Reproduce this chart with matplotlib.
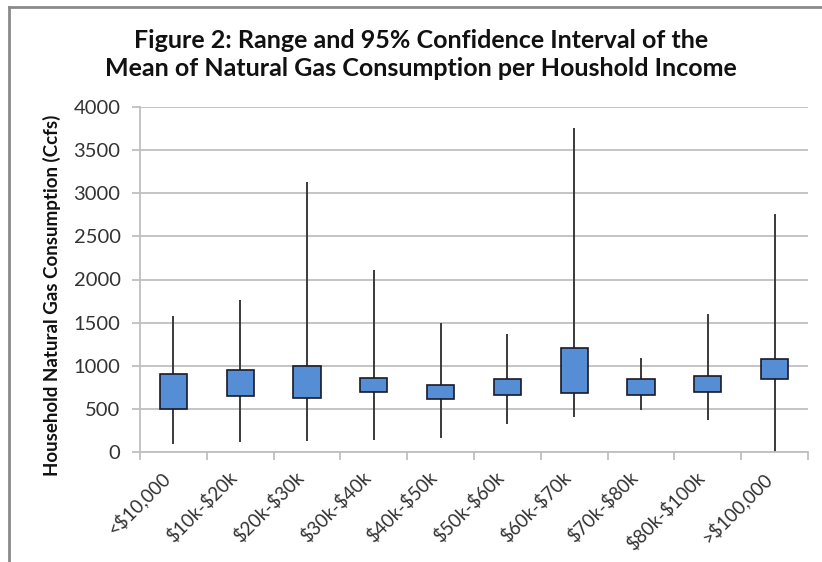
import matplotlib
matplotlib.use("Agg")
import matplotlib.pyplot as plt
import numpy as np
from matplotlib.lines import Line2D

categories = ["<$10,000", "$10k-$20k", "$20k-$30k", "$30k-$40k", "$40k-$50k",
              "$50k-$60k", "$60k-$70k", "$70k-$80k", "$80k-$100k", ">$100,000"]
range_min = [93, 112, 124, 135, 158, 324, 405, 483, 371, 0]
range_max = [1579, 1768, 3127, 2108, 1490, 1371, 3753, 1089, 1598, 2757]
ci_low = [502, 645, 625, 691, 614, 656, 680, 656, 691, 849]
ci_high = [907, 954, 996, 861, 772, 849, 1201, 849, 884, 1077]
yticks = [0, 500, 1000, 1500, 2000, 2500, 3000, 3500, 4000]

plt.rcParams['font.family'] = ['Lato', 'DejaVu Sans']

fig = plt.figure(figsize=(8.22, 5.62), dpi=100)
ax = fig.add_axes([140/822, 1-452/562, (808-140)/822, (452-107)/562])

x = np.arange(len(categories))
ax.vlines(x, range_min, range_max, color="#3a3a3a", lw=1.4, zorder=2)
heights = np.array(ci_high) - np.array(ci_low)
ax.bar(x, heights, bottom=ci_low, width=0.41, color="#558ED5",
       edgecolor="#1a1a2a", linewidth=1.2, zorder=3)

ax.set_xlim(-0.5, len(categories) - 0.5)
ax.set_ylim(0, 4000)
ax.set_yticks(yticks)
ax.set_yticklabels([str(v) for v in yticks], fontsize=14.5, color="#333333")
ax.grid(axis='y', color="#bfbfbf", lw=1.3, zorder=0)
ax.set_axisbelow(True)

for s in ["top", "right"]:
    ax.spines[s].set_visible(False)
for s in ["left", "bottom"]:
    ax.spines[s].set_color("#bfbfbf")
    ax.spines[s].set_linewidth(1.3)
ax.tick_params(axis='y', length=6, width=1.3, color="#bfbfbf", pad=8)

# x tick marks at category boundaries
ax.set_xticks(np.arange(len(categories) + 1) - 0.5)
ax.set_xticklabels([])
ax.tick_params(axis='x', length=6, width=1.3, color="#bfbfbf")
for i, c in enumerate(categories):
    ax.annotate(c, xy=(i, 0), xycoords=('data', 'axes fraction'),
                xytext=(-9, -12), textcoords='offset points',
                rotation=45, ha='right', va='top', rotation_mode='anchor',
                fontsize=13.5, color="#333333", parse_math=False)

ax.set_ylabel("Household Natural Gas Consumption (Ccfs)", fontsize=13.5,
              fontweight='bold', color="#111111")
ax.yaxis.set_label_coords(-0.118, 0.455)

fig.text(0.512, 1-40/562, "Figure 2: Range and 95% Confidence Interval of the",
         ha='center', va='center', fontsize=18, fontweight='bold', color="#111111")
fig.text(0.512, 1-68/562, "Mean of Natural Gas Consumption per Houshold Income",
         ha='center', va='center', fontsize=18, fontweight='bold', color="#111111")

# outer border lines (left and top)
fig.add_artist(Line2D([9/822, 9/822], [0, 1-7/562], transform=fig.transFigure,
                      color="#8a8a8a", lw=2))
fig.add_artist(Line2D([9/822, 1], [1-7/562, 1-7/562], transform=fig.transFigure,
                      color="#8a8a8a", lw=2))

fig.savefig("out.png", dpi=100)
